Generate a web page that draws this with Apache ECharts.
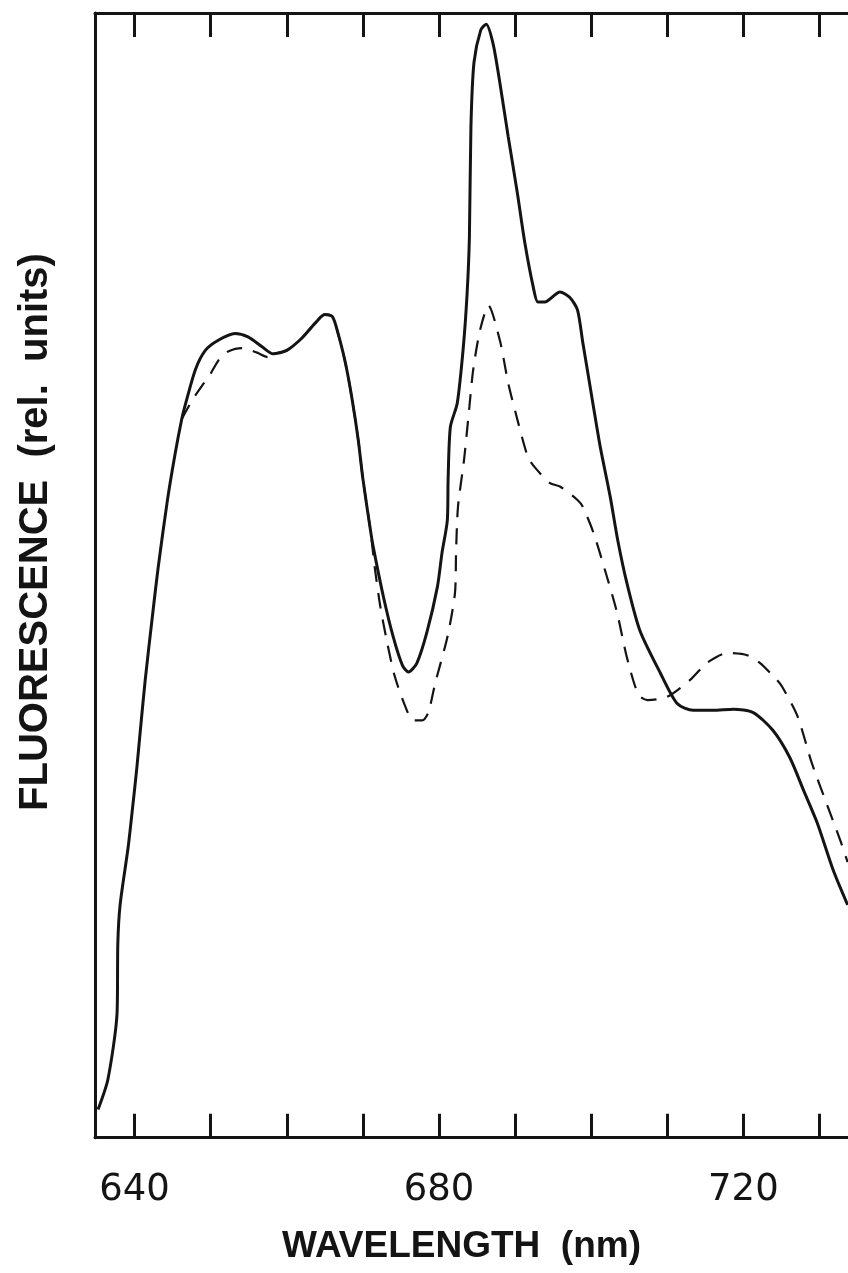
<!DOCTYPE html>
<html>
<head>
<meta charset="utf-8">
<script src="https://cdn.jsdelivr.net/npm/echarts@6/dist/echarts.min.js"></script>
<style>
html,body{margin:0;padding:0;background:#fff;}
#chart{width:848px;height:1273px;}
</style>
</head>
<body>
<div id="chart"></div>
<script>
// Wavelength (nm) and fluorescence (rel. units, 0-100 scale)
const solidWavelength = [635.2,636.5,637.7,637.8,638.1,639.15,639.7,640.3,640.7,641.4,642.4,643.1,644.3,645.3,646.2,646.6,648.0,649.3,651.0,653.2,654.9,656.8,658.2,660.0,662.0,663.7,665.0,666.0,666.7,667.7,668.6,669.4,670.0,671.0,671.4,672.7,674.0,675.2,676.0,677.1,678.4,679.8,680.4,681.1,681.2,681.5,682.4,683.2,683.7,684.0,684.2,684.6,685.5,686.2,687.1,688.0,689.1,690.3,691.3,692.4,693.0,693.9,695.9,697.2,698.2,698.9,700.3,701.2,702.5,703.5,704.7,706.4,709.1,711.3,713.4,716.0,718.7,721.3,723.9,726.1,727.9,729.7,731.8,733.7];
const solidFluor = [2.5,5.2,11.1,17.3,20.7,25.8,29.1,32.9,35.8,40.7,46.7,50.7,56.6,60.7,63.9,65.0,68.3,70.0,70.9,71.5,71.2,70.3,69.7,70.0,71.1,72.4,73.2,73.0,71.6,68.9,65.6,62.0,58.6,54.0,52.4,48.1,44.5,42.0,41.4,42.2,44.9,49.0,52.0,54.9,58.5,63.2,65.3,70.3,75.1,80.1,89.9,95.6,98.5,99.0,97.3,93.8,89.0,84.0,79.5,75.6,74.3,74.3,75.2,74.7,73.6,70.7,65.0,61.4,57.0,53.1,49.3,45.1,41.3,38.6,38.0,38.0,38.1,37.8,36.2,33.8,30.9,28.0,23.8,20.7];

const dashedWavelength = [646.2,647.6,648.9,649.7,651.2,652.3,654.1,656.1,657.5,658.2,660.0,662.0,663.7,665.0,666.0,666.7,667.7,668.6,669.4,670.0,671.0,671.6,672.3,673.2,674.2,675.6,676.6,677.8,678.6,679.5,681.1,682.1,682.25,682.5,683.3,684.0,684.5,685.4,686.5,688.0,689.1,690.4,691.7,692.6,694.6,695.9,698.2,698.9,700.3,701.8,703.4,704.7,706.2,707.4,710.0,713.0,715.2,717.9,720.5,722.2,724.4,725.1,727.1,729.0,731.0,732.7,733.7];
const dashedFluor = [63.9,65.6,66.9,67.6,69.3,69.9,70.2,69.8,69.4,69.7,70.0,71.1,72.4,73.2,73.0,71.6,68.9,65.6,62.0,58.6,54.0,50.5,47.2,44.0,41.0,38.3,37.1,37.1,37.8,40.4,44.5,48.4,52.2,56.1,60.3,65.0,68.3,71.8,74.0,70.9,67.1,63.6,60.5,59.6,58.2,57.9,56.7,56.1,53.8,50.5,46.7,42.7,39.4,38.9,39.2,40.7,42.2,43.1,42.9,42.2,40.7,40.1,37.5,33.3,29.6,26.5,24.5];

const tickValues = [640,650,660,670,680,690,700,710,720,730];
const labelValues = [640,680,720];
const xTitle = 'WAVELENGTH  (nm)';
const yTitle = 'FLUORESCENCE  (rel.  units)';

const solidData = solidWavelength.map((w,i)=>[w, solidFluor[i]]);
const dashedData = dashedWavelength.map((w,i)=>[w, dashedFluor[i]]);

const ink = '#141414';
const chart = echarts.init(document.getElementById('chart'), null, {renderer:'canvas'});
const xBase = {
  type:'value', min:634.8, max:733.75,
  splitLine:{show:false},
  axisLine:{show:true, onZero:false, lineStyle:{color:ink, width:3}},
  axisTick:{show:true, inside:true, length:24, customValues:tickValues, lineStyle:{color:ink, width:3}}
};
chart.setOption({
  backgroundColor:'#fff',
  animation:false,
  grid:{left:95, top:13, right:0, height:1124.7, containLabel:false},
  xAxis:[
    Object.assign({}, xBase, {position:'bottom',
      axisLabel:{show:true, customValues:labelValues, margin:34, color:ink,
        fontFamily:'DejaVu Sans', fontSize:37, fontWeight:'normal'}}),
    Object.assign({}, xBase, {position:'top', axisLabel:{show:false}})
  ],
  yAxis:{type:'value', min:0, max:100, splitLine:{show:false},
    axisLine:{show:true, lineStyle:{color:ink, width:3}},
    axisTick:{show:false}, axisLabel:{show:false}},
  series:[
    {type:'line', data:dashedData, showSymbol:false, smooth:0.25, z:2,
     lineStyle:{color:ink, width:2.2, type:[16,11]}},
    {type:'line', data:solidData, showSymbol:false, smooth:0.25, z:3,
     lineStyle:{color:ink, width:3}}
  ],
  graphic:[
    {type:'text', left:282, top:1228, style:{text:xTitle, fill:ink,
      font:'bold 37px "Liberation Sans", Arial, sans-serif'}},
    {type:'text', x:16, y:532, rotation:Math.PI/2, style:{text:yTitle, fill:ink,
      align:'center', verticalAlign:'top', font:'bold 40px "Liberation Sans", Arial, sans-serif'}}
  ]
});
</script>
</body>
</html>
